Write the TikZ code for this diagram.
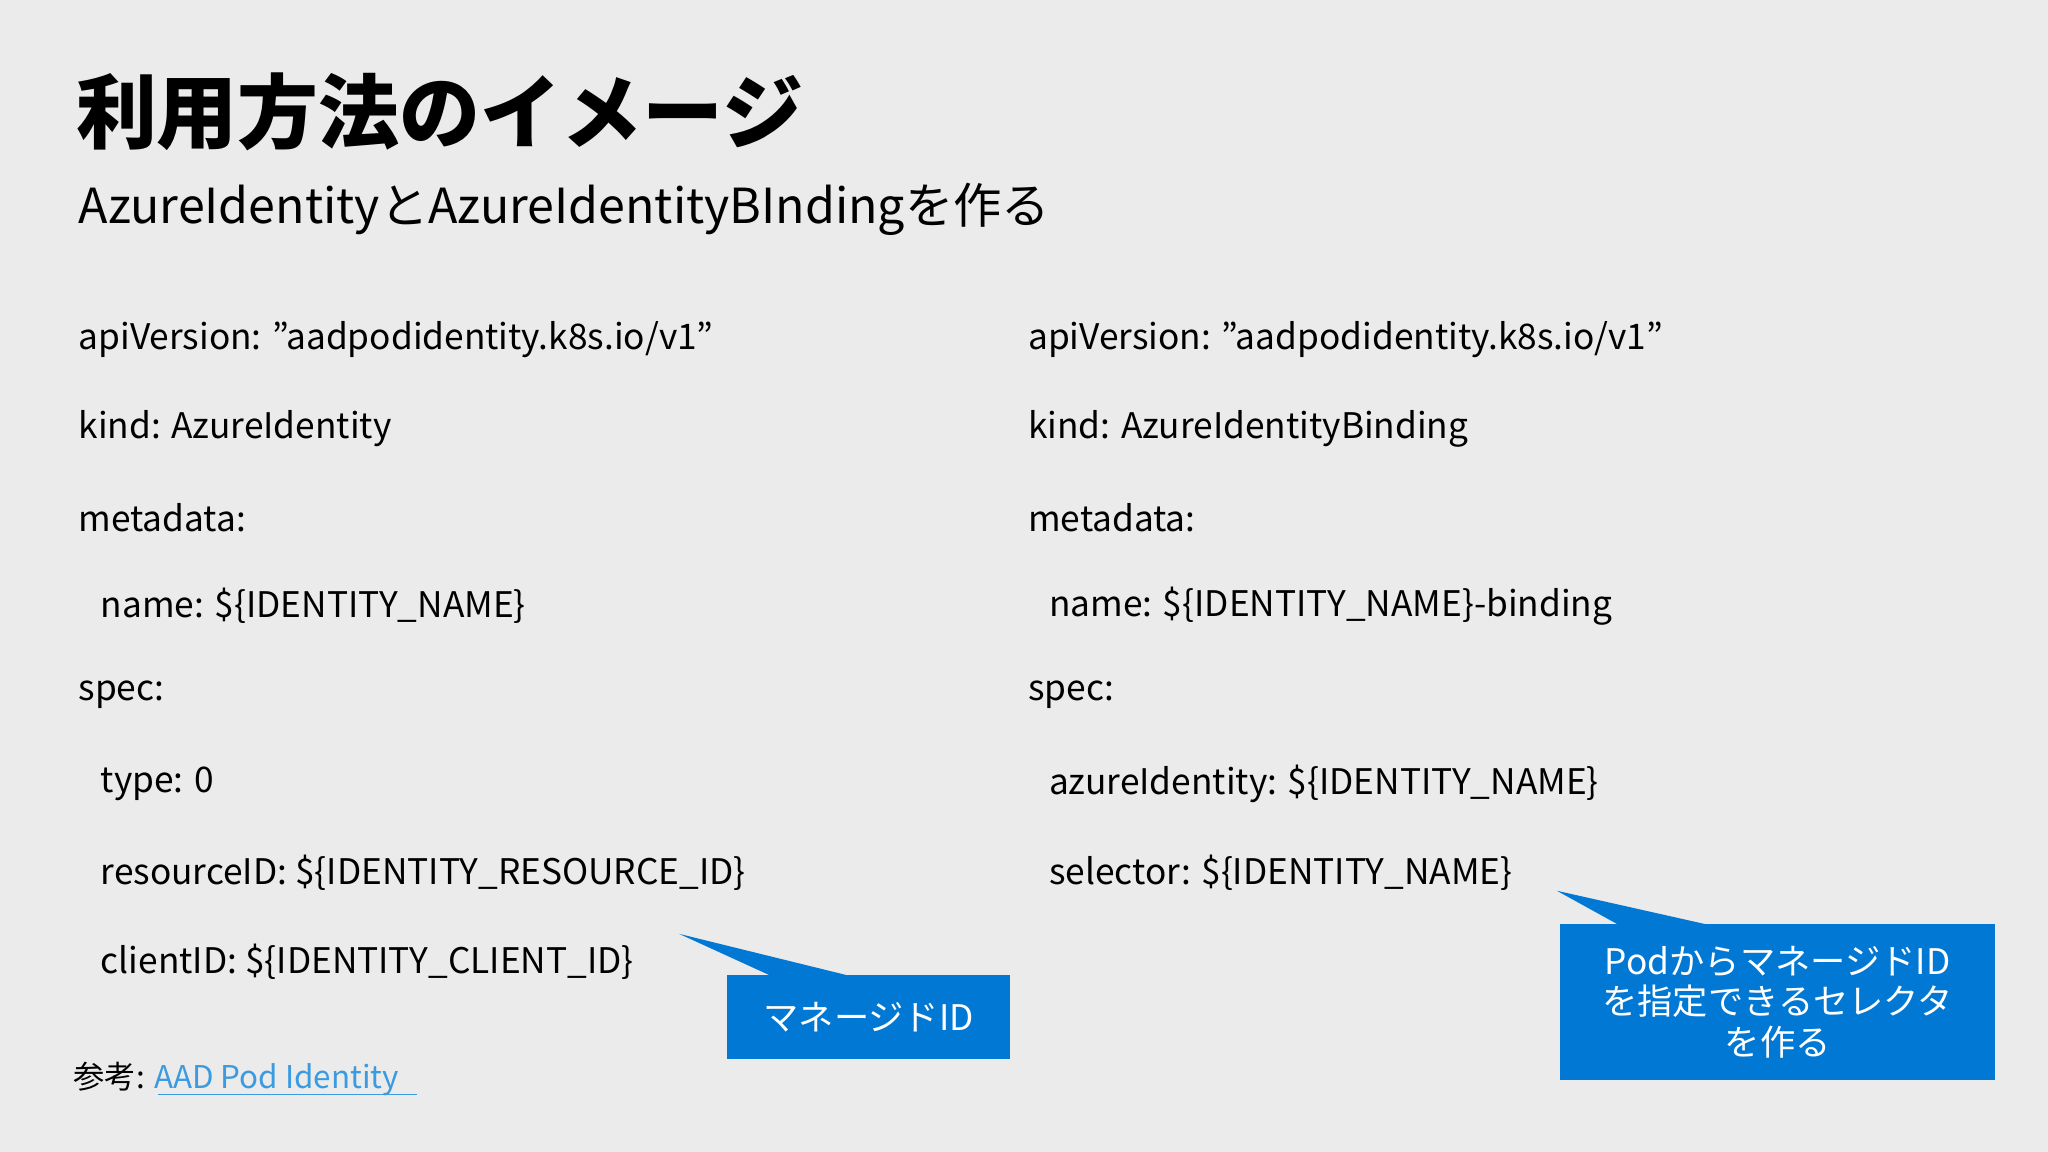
\documentclass[tikz,border=0pt]{standalone}
\usepackage{fontspec}
\setmainfont{Noto Sans CJK JP}
\definecolor{bg}{HTML}{EBEBEB}
\definecolor{ms}{HTML}{0078D4}
\definecolor{lk}{HTML}{3C9BE0}
\begin{document}
\begin{tikzpicture}[x=1pt,y=-1pt,
  code/.style={anchor=west,inner sep=0,font=\fontsize{27}{32}\selectfont},
  call/.style={fill=ms,text=white,align=center,inner sep=0,font=\fontsize{27}{31}\selectfont}]
\useasboundingbox[fill=bg] (0,0) rectangle (1568,882);
\node[anchor=west,inner sep=0,font=\bfseries\fontsize{62}{70}\selectfont] (t) at (58,86) {利用方法のイメージ};
\node[anchor=west,inner sep=0,font=\fontsize{37}{42}\selectfont] (st) at (60,160) {AzureIdentityとAzureIdentityBIndingを作る};
\foreach \i/\x/\s in {1/60/{apiVersion: "aadpodidentity.k8s.io/v1"},2/60/{kind: AzureIdentity},3/60/{metadata:},4/77/{name: \$\{IDENTITY\_NAME\}},5/60/{spec:},6/77/{type: 0},7/77/{resourceID: \$\{IDENTITY\_RESOURCE\_ID\}},8/77/{clientID: \$\{IDENTITY\_CLIENT\_ID\}}}
  \node[code] (l\i) at (\x,192+68*\i) {\s};
\foreach \i/\x/\s in {1/787/{apiVersion: "aadpodidentity.k8s.io/v1"},2/787/{kind: AzureIdentityBinding},3/787/{metadata:},4/803/{name: \$\{IDENTITY\_NAME\}-binding},5/787/{spec:},6/803/{azureIdentity: \$\{IDENTITY\_NAME\}},7/803/{selector: \$\{IDENTITY\_NAME\}}}
  \node[code] (r\i) at (\x,192+68*\i) {\s};
\node[call,minimum width=217,minimum height=64] (c1) at (665,778.5) {マネージドID};
\coordinate (p1) at (520,715);
\fill[ms] (p1) -- (650,747) -- (590,747) -- cycle;
\node[call,minimum width=333,minimum height=119] (c2) at (1361,767) {PodからマネージドID\\を指定できるセレクタ\\を作る};
\coordinate (p2) at (1192,682);
\fill[ms] (p2) -- (1310,708.5) -- (1240,708.5) -- cycle;
\node[anchor=west,inner sep=0,font=\fontsize{24}{28}\selectfont] (ref) at (56,826) {参考: \textcolor{lk}{AAD Pod Identity}};
\draw[lk,line width=1.2] (121,838) -- (319,838);
\end{tikzpicture}
\end{document}
